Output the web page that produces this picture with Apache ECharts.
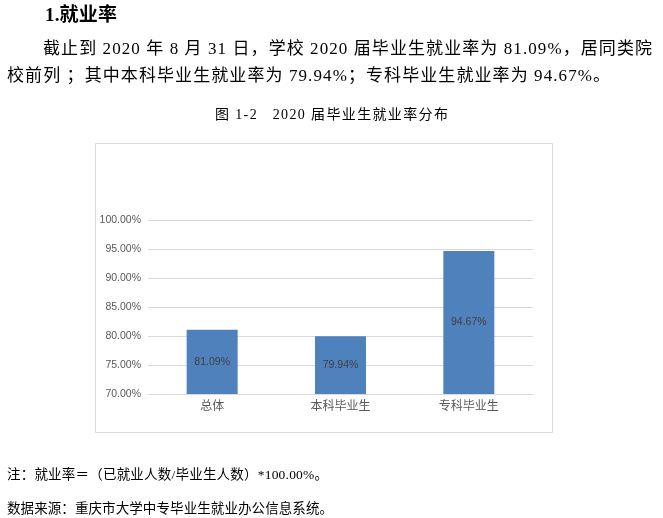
<!DOCTYPE html>
<html>
<head>
<meta charset="utf-8">
<script src="https://cdn.jsdelivr.net/npm/echarts@6/dist/echarts.min.js"></script>
<style>
  html, body { margin:0; padding:0; background:#fff; }
  body { width:663px; height:518px; position:relative; overflow:hidden; }
  #chart { position:absolute; left:0; top:0; width:663px; height:518px; }
  .t { position:absolute; white-space:nowrap; color:#000;
       font-family:'Liberation Serif','Noto Sans CJK SC',serif; }
</style>
</head>
<body>
<div id="chart"></div>
<div class="t fit" data-w="72" style="left:45px;top:4px;font-size:19px;line-height:21px;font-weight:bold;">1.就业率</div>
<div class="t fit" data-w="609" style="left:43px;top:39px;font-size:17px;line-height:20px;">截止到 2020 年 8 月 31 日，学校 2020 届毕业生就业率为 81.09%，居同类院</div>
<div class="t fit" data-w="603" style="left:7px;top:66px;font-size:17px;line-height:20px;">校前列 ；其中本科毕业生就业率为 79.94%；专科毕业生就业率为 94.67%。</div>
<div class="t fit" data-w="233" style="left:215px;top:107px;font-size:14px;line-height:16px;">图 1-2&nbsp;&nbsp; 2020 届毕业生就业率分布</div>
<div class="t fit" data-w="321" style="left:7px;top:467px;font-size:13.5px;line-height:16px;">注：就业率＝（已就业人数/毕业生人数）*100.00%。</div>
<div class="t fit" data-w="326" style="left:7px;top:501px;font-size:13.5px;line-height:16px;">数据来源：重庆市大学中专毕业生就业办公信息系统。</div>
<script>
const categories = ['总体', '本科毕业生', '专科毕业生'];
const rates = [81.09, 79.94, 94.67];
const yMin = 70, yMax = 100, yStep = 5;

// spread each text line evenly to its measured width in the reference
document.querySelectorAll('.fit').forEach(el => {
  const target = parseFloat(el.dataset.w);
  el.style.letterSpacing = '0px';
  const natural = el.getBoundingClientRect().width;
  const n = Array.from(el.textContent).length;
  if (n > 1) el.style.letterSpacing = ((target - natural) / (n - 1)) + 'px';
});

const chart = echarts.init(document.getElementById('chart'), null, {renderer:'canvas'});
chart.setOption({
  animation: false,
  graphic: [{
    type: 'rect', silent: true, z: -1,
    shape: { x: 95.5, y: 143.5, width: 457, height: 289 },
    style: { fill: '#fff', stroke: '#d9d9d9', lineWidth: 1 }
  }],
  grid: { left: 148, right: 130, top: 220, bottom: 124, containLabel: false },
  xAxis: {
    type: 'category', data: categories,
    axisLine: { show: true, lineStyle: { color: '#d9d9d9', width: 1 } },
    axisTick: { show: false },
    axisLabel: { color: '#595959', fontSize: 12, margin: 5, fontFamily: "'Noto Sans CJK SC', sans-serif" }
  },
  yAxis: {
    type: 'value', min: yMin, max: yMax, interval: yStep,
    axisLine: { show: false }, axisTick: { show: false },
    splitLine: { lineStyle: { color: '#d9d9d9', width: 1 } },
    axisLabel: { color: '#595959', fontSize: 10.5, margin: 7, fontFamily: "'Liberation Sans', Arial, sans-serif",
      formatter: v => v.toFixed(2) + '%' }
  },
  series: [{
    type: 'bar', data: rates, barWidth: 51,
    itemStyle: { color: '#4f81bd' },
    label: { show: true, position: 'inside', color: '#404040', fontSize: 10.5,
      fontFamily: "'Liberation Sans', Arial, sans-serif",
      formatter: p => p.value.toFixed(2) + '%' }
  }]
});
</script>
</body>
</html>
